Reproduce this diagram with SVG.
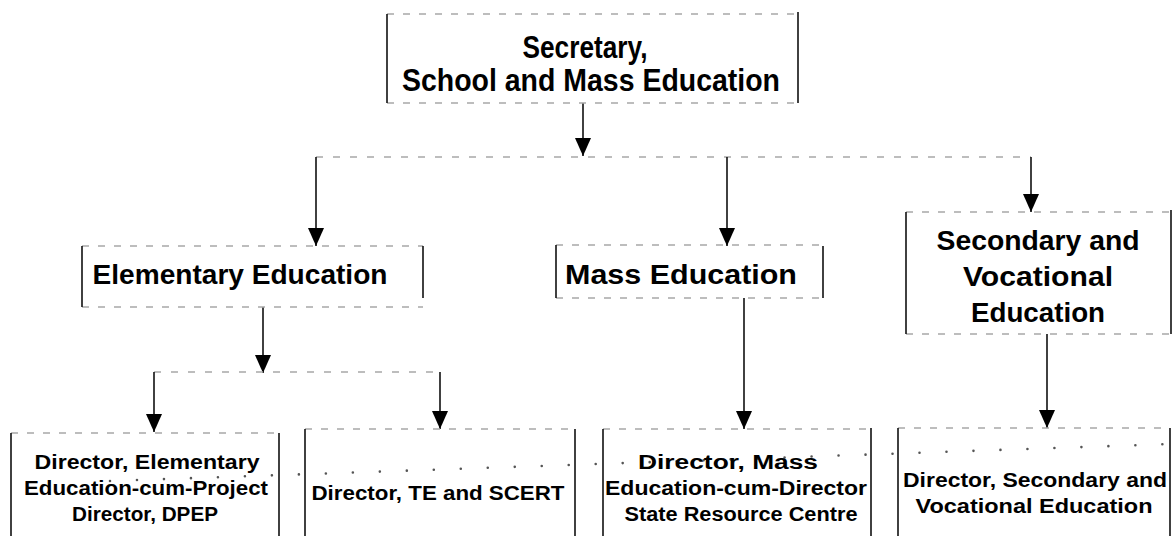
<svg xmlns="http://www.w3.org/2000/svg" width="1173" height="536" viewBox="0 0 1173 536">
  <defs>
    <!-- solid arrowhead, drawn along +x so orient="auto" turns it with the line -->
    <marker id="arrow" viewBox="0 0 18 16" refX="18" refY="8" markerWidth="18" markerHeight="16" markerUnits="userSpaceOnUse" orient="auto">
      <path d="M0,0 L18,8 L0,16 Z" fill="#000"/>
    </marker>
  </defs>
  <style>
    .side { stroke: #111; stroke-width: 1.6; fill: none; }
    .edge { stroke: #a8a8a8; stroke-width: 1.3; stroke-dasharray: 7 9; fill: none; }
    .link { stroke: #111; stroke-width: 1.6; fill: none; }
    .bus { stroke: #a8a8a8; stroke-width: 1.3; stroke-dasharray: 7 10; fill: none; }
    .dots { stroke: #555; stroke-width: 2.6; stroke-linecap: round; stroke-dasharray: 0 27; fill: none; }
    text { font-family: "Liberation Sans", Arial, sans-serif; font-weight: bold; fill: #000; text-anchor: middle; }
    .big { font-size: 31px; }
    .mid { font-size: 28px; }
    .small { font-size: 20px; }
  </style>
  <rect width="1173" height="536" fill="#fff"/>

  <!-- faint dotted rule running across the lower row -->
  <path class="dots" d="M110,481 L1170,444"/>

  <!-- connectors -->
  <g id="connectors">
    <line class="link" x1="583" y1="103" x2="583" y2="156" marker-end="url(#arrow)"/>
    <line class="bus" x1="316" y1="157" x2="1031" y2="157"/>
    <line class="link" x1="316" y1="157" x2="316" y2="246" marker-end="url(#arrow)"/>
    <line class="link" x1="727" y1="157" x2="727" y2="246" marker-end="url(#arrow)"/>
    <line class="link" x1="1031" y1="157" x2="1031" y2="212" marker-end="url(#arrow)"/>

    <line class="link" x1="263" y1="307" x2="263" y2="373" marker-end="url(#arrow)"/>
    <line class="bus" x1="154" y1="372" x2="440" y2="372"/>
    <line class="link" x1="154" y1="372" x2="154" y2="432" marker-end="url(#arrow)"/>
    <line class="link" x1="440" y1="372" x2="440" y2="429" marker-end="url(#arrow)"/>

    <line class="link" x1="744" y1="298" x2="744" y2="429" marker-end="url(#arrow)"/>
    <line class="link" x1="1047" y1="334" x2="1047" y2="428" marker-end="url(#arrow)"/>
  </g>

  <!-- Secretary -->
  <g id="secretary">
    <line class="edge" x1="387" y1="14" x2="798" y2="14"/>
    <line class="edge" x1="387" y1="103" x2="798" y2="103"/>
    <line class="side" x1="387" y1="14" x2="387" y2="103"/>
    <line class="side" x1="798" y1="12" x2="798" y2="103"/>
    <text class="big" x="585" y="58" textLength="125" lengthAdjust="spacingAndGlyphs">Secretary,</text>
    <text class="big" x="591" y="91" textLength="378" lengthAdjust="spacingAndGlyphs">School and Mass Education</text>
  </g>

  <!-- Elementary Education -->
  <g id="elementary">
    <line class="edge" x1="82" y1="246" x2="423" y2="246"/>
    <line class="edge" x1="82" y1="307" x2="423" y2="307"/>
    <line class="side" x1="82" y1="246" x2="82" y2="307"/>
    <line class="side" x1="423" y1="246" x2="423" y2="298"/>
    <text class="mid" x="240" y="284" textLength="295" lengthAdjust="spacingAndGlyphs">Elementary Education</text>
  </g>

  <!-- Mass Education -->
  <g id="mass">
    <line class="edge" x1="556" y1="245" x2="823" y2="245"/>
    <line class="edge" x1="556" y1="298" x2="823" y2="298"/>
    <line class="side" x1="556" y1="245" x2="556" y2="298"/>
    <line class="side" x1="823" y1="246" x2="823" y2="298"/>
    <text class="mid" x="681" y="284" textLength="232" lengthAdjust="spacingAndGlyphs">Mass Education</text>
  </g>

  <!-- Secondary and Vocational Education -->
  <g id="secondary">
    <line class="edge" x1="906" y1="212" x2="1172" y2="212"/>
    <line class="edge" x1="906" y1="334" x2="1172" y2="334"/>
    <line class="side" x1="906" y1="212" x2="906" y2="334"/>
    <line class="side" x1="1171" y1="210" x2="1171" y2="334"/>
    <text class="mid" x="1038" y="250" textLength="203" lengthAdjust="spacingAndGlyphs">Secondary and</text>
    <text class="mid" x="1038" y="286" textLength="150" lengthAdjust="spacingAndGlyphs">Vocational</text>
    <text class="mid" x="1038" y="322" textLength="134" lengthAdjust="spacingAndGlyphs">Education</text>
  </g>

  <!-- Director, Elementary Education-cum-Project Director, DPEP -->
  <g id="dir-elementary">
    <line class="edge" x1="11" y1="433" x2="279" y2="433"/>
    <line class="side" x1="11" y1="433" x2="11" y2="536"/>
    <line class="side" x1="279" y1="433" x2="279" y2="536"/>
    <text class="small" x="147" y="469" textLength="225" lengthAdjust="spacingAndGlyphs">Director, Elementary</text>
    <text class="small" x="146" y="495" textLength="244" lengthAdjust="spacingAndGlyphs">Education-cum-Project</text>
    <text class="small" x="145" y="521" textLength="146" lengthAdjust="spacingAndGlyphs">Director, DPEP</text>
  </g>

  <!-- Director, TE and SCERT -->
  <g id="dir-te">
    <line class="edge" x1="305" y1="429" x2="575" y2="429"/>
    <line class="side" x1="305" y1="429" x2="305" y2="536"/>
    <line class="side" x1="575" y1="429" x2="575" y2="536"/>
    <text class="small" x="438" y="500" textLength="253" lengthAdjust="spacingAndGlyphs">Director, TE and SCERT</text>
  </g>

  <!-- Director, Mass Education-cum-Director State Resource Centre -->
  <g id="dir-mass">
    <line class="edge" x1="603" y1="429" x2="871" y2="429"/>
    <line class="side" x1="603" y1="429" x2="603" y2="536"/>
    <line class="side" x1="871" y1="428" x2="871" y2="536"/>
    <text class="small" x="728" y="469" textLength="180" lengthAdjust="spacingAndGlyphs">Director, Mass</text>
    <text class="small" x="736" y="495" textLength="262" lengthAdjust="spacingAndGlyphs">Education-cum-Director</text>
    <text class="small" x="741" y="521" textLength="233" lengthAdjust="spacingAndGlyphs">State Resource Centre</text>
  </g>

  <!-- Director, Secondary and Vocational Education -->
  <g id="dir-secondary">
    <line class="edge" x1="898" y1="428" x2="1170" y2="428"/>
    <line class="side" x1="898" y1="428" x2="898" y2="536"/>
    <line class="side" x1="1170" y1="428" x2="1170" y2="536"/>
    <text class="small" x="1035" y="487" textLength="264" lengthAdjust="spacingAndGlyphs">Director, Secondary and</text>
    <text class="small" x="1034" y="513" textLength="237" lengthAdjust="spacingAndGlyphs">Vocational Education</text>
  </g>
</svg>
